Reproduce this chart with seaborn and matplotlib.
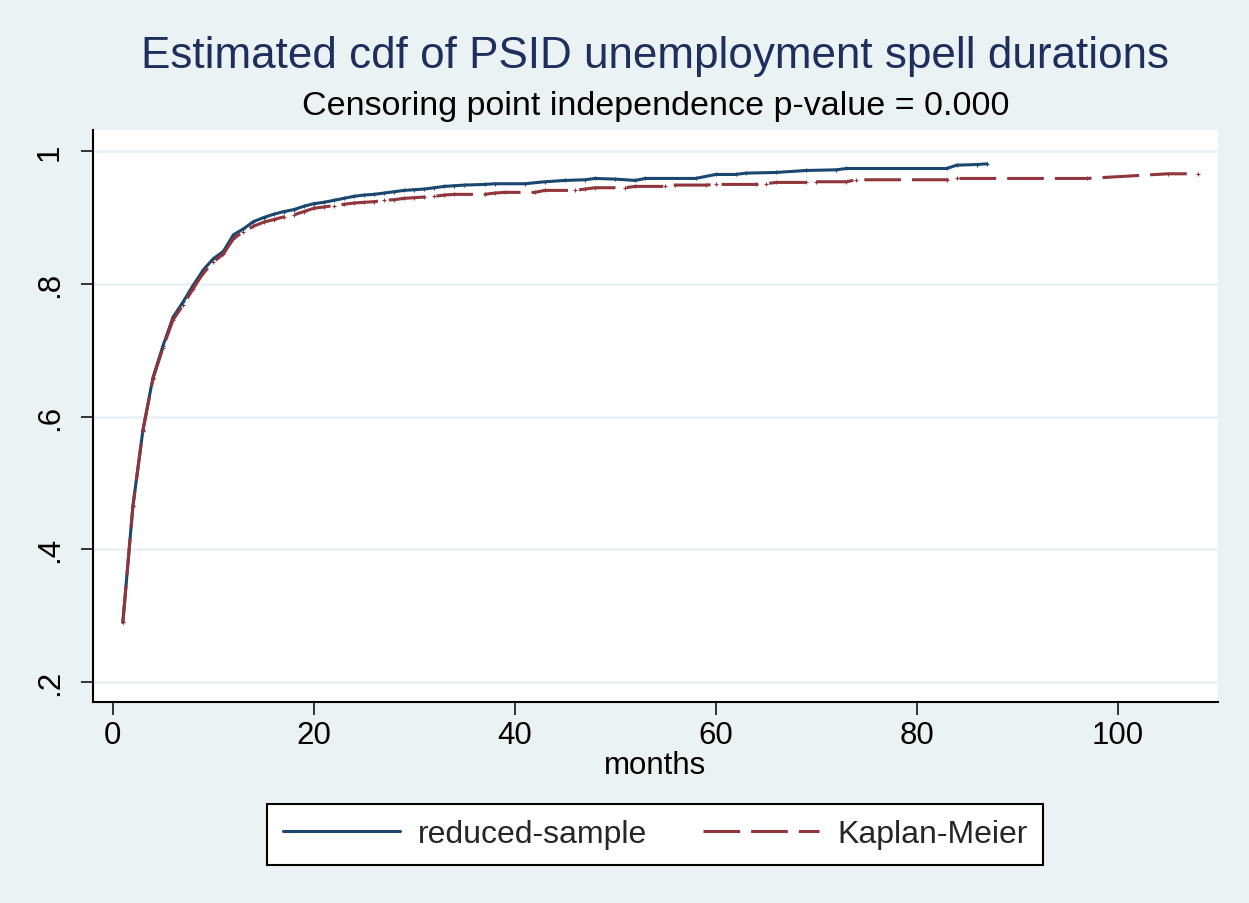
import numpy as np
import pandas as pd
import matplotlib
matplotlib.use('Agg')
import matplotlib.pyplot as plt
from matplotlib.lines import Line2D
import seaborn as sns

# reduced-sample estimate (months, cdf)
rs_months = [1, 2, 3, 4, 5, 6, 7, 8, 9, 10, 11, 12, 13, 14, 15, 16, 17, 18, 19, 20,
             21, 22, 23, 24, 25, 26, 27, 28, 29, 30, 31, 32, 33, 34, 35, 37, 38, 41, 43, 45,
             47, 48, 50, 52, 53, 58, 60, 62, 63, 66, 69, 72, 73, 83, 84, 86, 87]
rs_cdf = [.290, .465, .580, .659, .707, .750, .773, .798, .821, .838, .849, .874, .883, .894,
          .900, .905, .909, .912, .917, .921, .923, .926, .929, .932, .934, .935, .937, .939,
          .941, .942, .943, .945, .947, .948, .949, .950, .951, .951, .954, .956, .957, .959,
          .958, .956, .959, .959, .965, .965, .967, .968, .971, .972, .974, .974, .979, .980, .981]

# Kaplan-Meier estimate
km_months = [1, 2, 3, 4, 5, 6, 7, 8, 9, 10, 11, 12, 13, 14, 15, 16, 17, 18, 19, 20,
             21, 22, 23, 24, 25, 26, 27, 28, 29, 30, 31, 32, 33, 34, 37, 38, 39, 42, 43, 46,
             47, 48, 51, 52, 55, 56, 59, 60, 64, 65, 66, 69, 70, 73, 74, 83, 84, 97, 105, 108]
km_cdf = [.290, .465, .579, .657, .704, .746, .768, .793, .816, .833, .845, .868, .879, .887,
          .893, .897, .901, .904, .909, .914, .916, .918, .920, .922, .923, .924, .926, .927,
          .929, .930, .931, .932, .934, .935, .935, .937, .938, .938, .941, .941, .943, .945,
          .945, .947, .947, .949, .949, .950, .950, .951, .953, .953, .954, .954, .957, .957,
          .959, .959, .966, .966]

x_ticks = [0, 20, 40, 60, 80, 100]
y_ticks = [.2, .4, .6, .8, 1]
y_ticklabels = ['.2', '.4', '.6', '.8', '1']

BG = '#EAF2F3'
NAVY = '#1a476f'
MAROON = '#90353b'

sns.set_theme(style='white')
plt.rcParams['font.family'] = ['Liberation Sans', 'DejaVu Sans']

W, H = 1249, 904
fig = plt.figure(figsize=(W / 100, H / 100), dpi=100, facecolor=BG)
ax = fig.add_axes([92.7 / W, 1 - 703 / H, (1218 - 92.7) / W, (703 - 131) / H])
ax.set_facecolor('white')

df_rs = pd.DataFrame({'months': rs_months, 'cdf': rs_cdf})
df_km = pd.DataFrame({'months': km_months, 'cdf': km_cdf})

sns.lineplot(data=df_rs, x='months', y='cdf', ax=ax, color=NAVY, linewidth=2.2,
             marker='+', markersize=3, markeredgewidth=0.8, markeredgecolor=NAVY, zorder=3)
sns.lineplot(data=df_km, x='months', y='cdf', ax=ax, color=MAROON, linewidth=2.2,
             linestyle=(0, (12, 3.6)), marker='+', markersize=3, markeredgewidth=0.8,
             markeredgecolor=MAROON, zorder=4)

ax.set_xlim(-2, 110)
ax.set_ylim(0.170, 1.032)
ax.set_xticks(x_ticks)
ax.set_yticks(y_ticks)
ax.set_yticklabels(y_ticklabels, rotation=90, va='center')
ax.grid(axis='y', color=BG, linewidth=2)
ax.grid(axis='x', visible=False)
ax.set_axisbelow(True)

for s in ['top', 'right']:
    ax.spines[s].set_visible(False)
for s in ['left', 'bottom']:
    ax.spines[s].set_color('black')
    ax.spines[s].set_linewidth(1.5)

ax.tick_params(axis='both', which='major', direction='out', length=9, width=1.1,
               color='black', labelsize=22.5, labelcolor='black')
ax.tick_params(axis='y', pad=11, left=True)
ax.tick_params(axis='x', pad=4, bottom=True)

ax.set_xlabel('months', fontsize=22.5, color='black', labelpad=0)
ax.set_ylabel('')

fig.text(655.4 / W, 1 - 68 / H, 'Estimated cdf of PSID unemployment spell durations',
         ha='center', va='baseline', fontsize=31.7, color='#1e2f5e')
fig.text(655.4 / W, 1 - 115 / H, 'Censoring point independence p-value = 0.000',
         ha='center', va='baseline', fontsize=24.5, color='black')

handles = [Line2D([], [], color=NAVY, linewidth=2.2),
           Line2D([], [], color=MAROON, linewidth=2.2, linestyle=(0, (12, 3.6)))]
leg = fig.legend(handles, ['reduced-sample', 'Kaplan-Meier'], loc='center',
                 bbox_to_anchor=(655.4 / W, 1 - 835.5 / H), ncol=2, fontsize=23,
                 frameon=True, fancybox=False, handlelength=3.65, handletextpad=0.55,
                 columnspacing=1.75, borderpad=0.5)
leg.get_frame().set_edgecolor('black')
leg.get_frame().set_linewidth(1.5)
leg.get_frame().set_facecolor('white')
leg.get_frame().set_alpha(1)

fig.savefig('out.png', dpi=100, facecolor=BG)
